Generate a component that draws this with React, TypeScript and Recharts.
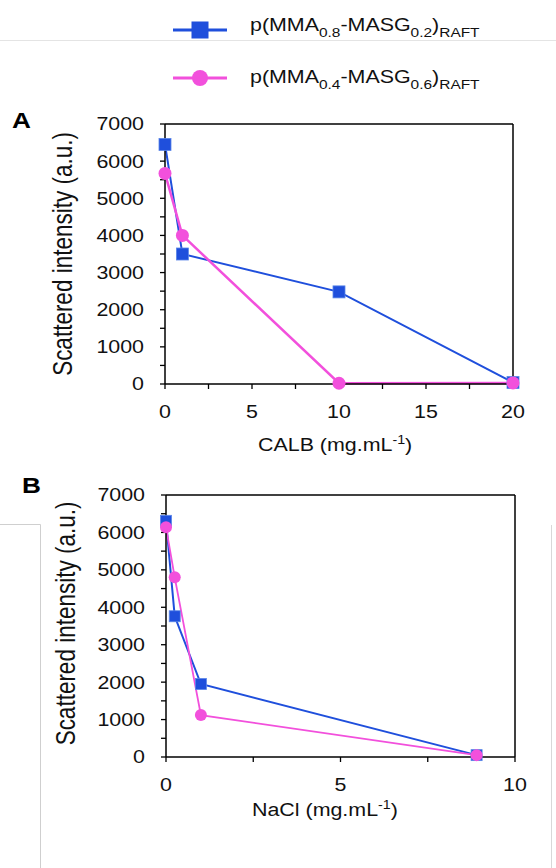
import React from 'react';
import { LineChart, Line, XAxis, YAxis, ReferenceLine } from 'recharts';

const BLUE = '#1f4fdc';
const PINK = '#f250dc';
const FONT = '"Liberation Sans", Arial, sans-serif';
// the source figure is stretched sideways a little
const SX = 1.19;

const intensityTicks = [0, 500, 1000, 1500, 2000, 2500, 3000, 3500, 4000, 4500, 5000, 5500, 6000, 6500, 7000];

// panel A: CALB
const calbTicks = [0, 2.5, 5, 7.5, 10, 12.5, 15, 17.5, 20];
const calbConc = [0, 1, 10, 20];
const calbP08 = [6450, 3500, 2480, 40];
const calbP04 = [5670, 4000, 20, 30];

// panel B: NaCl
const naclTicks = [0, 2.5, 5, 7.5, 10];
const naclConc = [0, 0.25, 1, 8.9];
const naclP08 = [6310, 3760, 1950, 50];
const naclP04 = [6140, 4800, 1120, 50];

const seriesSubs = [['0.8', '0.2'], ['0.4', '0.6']];

function YTick({ x, y, payload }: any) {
  const v = payload.value;
  if (v % 1000 !== 0) return null;
  return (
    <text transform={`translate(${x},${y}) scale(${SX},1)`} textAnchor="end" dy="0.355em"
      fontSize={18} fill="#111" fontFamily={FONT}>{v}</text>
  );
}

function XTick({ x, y, payload }: any) {
  const v = payload.value;
  if (v % 5 !== 0) return null;
  return (
    <text transform={`translate(${x},${y}) scale(${SX},1)`} textAnchor="middle" dy="0.71em"
      fontSize={18} fill="#111" fontFamily={FONT}>{v}</text>
  );
}

const squareDot = (size: number) => (p: any) => (
  <rect key={`sq-${p.index}`} x={p.cx - size / 2} y={p.cy - size / 2} width={size} height={size}
    fill={BLUE} stroke="#5a86e8" strokeWidth={0.8} />
);

function Panel({ data, ticks, xMax, width, height, margin, sq, r, wBlue, wPink }: any) {
  return (
    <LineChart width={width} height={height} data={data} margin={margin}>
      <XAxis dataKey="x" type="number" domain={[0, xMax]} ticks={ticks} interval={0}
        tick={XTick} tickSize={5} tickMargin={16} height={40}
        axisLine={{ stroke: '#000', strokeWidth: 1.5 }} tickLine={{ stroke: '#000', strokeWidth: 1.3 }} />
      <YAxis type="number" domain={[0, 7000]} ticks={intensityTicks} interval={0}
        tick={YTick} tickSize={5} tickMargin={16} width={60}
        axisLine={{ stroke: '#000', strokeWidth: 1.5 }} tickLine={{ stroke: '#000', strokeWidth: 1.3 }} />
      <ReferenceLine y={7000} stroke="#000" strokeWidth={1.5} />
      <ReferenceLine x={xMax} stroke="#000" strokeWidth={1.5} />
      <Line dataKey="p08" stroke={BLUE} strokeWidth={wBlue} dot={squareDot(sq)} isAnimationActive={false} />
      <Line dataKey="p04" stroke={PINK} strokeWidth={wPink}
        dot={{ r, fill: PINK, stroke: PINK, strokeWidth: 0 }} isAnimationActive={false} />
    </LineChart>
  );
}

function SeriesName({ x, y, subs }: any) {
  return (
    <text transform={`translate(${x},${y}) scale(${SX},1)`} fontSize={18} fill="#111">
      p(MMA<tspan fontSize={13} dy={6}>{subs[0]}</tspan><tspan dy={-6}>-MASG</tspan>
      <tspan fontSize={13} dy={6}>{subs[1]}</tspan><tspan dy={-6}>)</tspan>
      <tspan fontSize={13} dy={6}>RAFT</tspan>
    </text>
  );
}

function AxisTitleX({ x, y, name }: any) {
  return (
    <text transform={`translate(${x},${y}) scale(${SX},1)`} fontSize={18} fill="#111">
      {name} (mg.mL<tspan fontSize={12} dy={-7}>-1</tspan><tspan dy={7}>)</tspan>
    </text>
  );
}

function AxisTitleY({ x, y }: any) {
  return (
    <text transform={`translate(${x},${y}) scale(${SX},1) rotate(-90)`} textAnchor="middle"
      fontSize={22.5} fill="#111">Scattered intensity (a.u.)</text>
  );
}

export default function App() {
  const dataA = calbConc.map((x, i) => ({ x, p08: calbP08[i], p04: calbP04[i] }));
  const dataB = naclConc.map((x, i) => ({ x, p08: naclP08[i], p04: naclP04[i] }));

  return (
    <div style={{ position: 'absolute', left: 0, top: 0, width: 556, height: 868, background: '#fff', fontFamily: FONT }}>
      <svg width={556} height={868} style={{ position: 'absolute', left: 0, top: 0 }} fontFamily={FONT}>
        <line x1={0} x2={556} y1={40.5} y2={40.5} stroke="#e4e4e4" />
        <polyline points="0,524.5 40.5,524.5 40.5,868" fill="none" stroke="#cfcfcf" />
        <line x1={551.5} x2={551.5} y1={525} y2={868} stroke="#d8d8d8" />

        {/* legend */}
        <line x1={173} x2={227} y1={30} y2={30} stroke={BLUE} strokeWidth={3} />
        <rect x={191.5} y={21.5} width={17} height={17} fill={BLUE} />
        <SeriesName x={250} y={31} subs={seriesSubs[0]} />
        <line x1={173} x2={227} y1={78} y2={78} stroke={PINK} strokeWidth={3} />
        <circle cx={200} cy={78} r={8} fill={PINK} />
        <SeriesName x={250} y={83} subs={seriesSubs[1]} />

        <text transform={`translate(12,128) scale(${SX},1)`} fontSize={22} fontWeight="bold" fill="#000">A</text>
        <text transform={`translate(22,493) scale(${SX},1)`} fontSize={22} fontWeight="bold" fill="#000">B</text>

        <AxisTitleY x={71.5} y={254} />
        <AxisTitleY x={75} y={623.5} />
        <AxisTitleX x={258} y={451} name="CALB" />
        <AxisTitleX x={252} y={816} name="NaCl" />
      </svg>

      <div style={{ position: 'absolute', left: 0, top: 0 }}>
        <Panel data={dataA} ticks={calbTicks} xMax={20} width={556} height={450}
          margin={{ top: 124, right: 43, bottom: 26, left: 105 }}
          sq={12} r={6.5} wBlue={2} wPink={2.5} />
      </div>
      <div style={{ position: 'absolute', left: 0, top: 460 }}>
        <Panel data={dataB} ticks={naclTicks} xMax={10} width={556} height={380}
          margin={{ top: 35, right: 41, bottom: 43, left: 106 }}
          sq={11} r={6} wBlue={2} wPink={1.8} />
      </div>
    </div>
  );
}
